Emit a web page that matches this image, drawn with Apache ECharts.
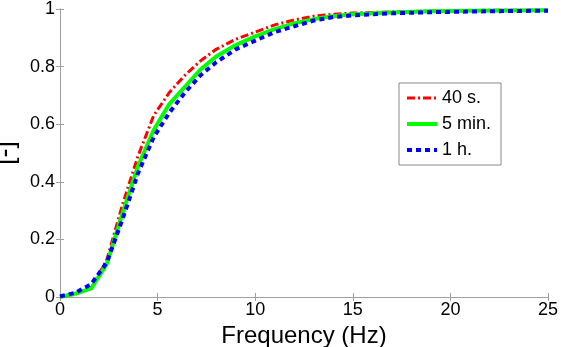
<!DOCTYPE html>
<html>
<head>
<meta charset="utf-8">
<script src="https://cdn.jsdelivr.net/npm/echarts@6/dist/echarts.min.js"></script>
<style>
  html, body { margin: 0; padding: 0; background: #fff; }
  #chart { width: 561px; height: 347px; }
</style>
</head>
<body>
<div id="chart"></div>
<script>
// frequency samples (Hz)
const freq = [0, 0.8, 1.6, 2.4, 3.2, 4.0, 4.8, 5.6, 6.4, 7.2, 8.0, 9, 10, 11, 12, 13, 14, 15, 17, 19, 21, 23, 25]
// 40 s.
const s40 = [0, 0.01, 0.03, 0.13, 0.32, 0.49, 0.63, 0.71, 0.77, 0.82, 0.86, 0.895, 0.92, 0.945, 0.962, 0.975, 0.982, 0.986, 0.99, 0.993, 0.995, 0.996, 0.996]
// 5 min.
const m5 = [0, 0.012, 0.03, 0.115, 0.29, 0.455, 0.58, 0.67, 0.73, 0.79, 0.835, 0.875, 0.905, 0.93, 0.95, 0.965, 0.975, 0.982, 0.988, 0.992, 0.994, 0.995, 0.996]
// 1 h.
const h1 = [0.002, 0.015, 0.045, 0.12, 0.27, 0.43, 0.555, 0.64, 0.71, 0.77, 0.815, 0.86, 0.89, 0.92, 0.94, 0.96, 0.972, 0.978, 0.985, 0.989, 0.991, 0.993, 0.994]
const xTicks = [0, 5, 10, 15, 20, 25]
const yTicks = [0, 0.2, 0.4, 0.6, 0.8, 1]

const pairs = ys => freq.map((x, i) => [x, ys[i]])

const font = 'Liberation Sans, Arial, sans-serif'
const axisLine = { lineStyle: { color: '#a0a0a0', width: 1 } }
const tick = { inside: true, length: 4, lineStyle: { color: '#a0a0a0' } }
const yLabel = v => {
  if (v === 0 || v === 1) return String(v)
  return v.toFixed(1)
}

const redStyle = { color: '#ff0000', width: 3, type: [8, 3, 2, 3] }
const greenStyle = { color: '#00ff00', width: 4, type: 'solid' }
const blueStyle = { color: '#0000ff', width: 4, type: [5, 4] }

const chart = echarts.init(document.getElementById('chart'))
chart.setOption({
  animation: false,
  backgroundColor: '#fff',
  grid: { left: 60, right: 13, top: 9, bottom: 50, outerBoundsMode: 'none' },
  legend: {
    orient: 'vertical',
    left: 399,
    top: 83,
    padding: [6, 10, 6, 6],
    itemGap: 8,
    itemWidth: 30,
    itemHeight: 18,
    borderColor: '#888',
    borderWidth: 1,
    backgroundColor: '#fff',
    itemStyle: { opacity: 0 },
    textStyle: { fontFamily: font, fontSize: 18, color: '#000' },
    data: [
      { name: '40 s.', lineStyle: redStyle },
      { name: '5 min.', lineStyle: greenStyle },
      { name: '1 h.', lineStyle: blueStyle }
    ]
  },
  xAxis: [
    {
      type: 'value',
      min: 0,
      max: 25,
      interval: 5,
      name: 'Frequency (Hz)',
      nameLocation: 'middle',
      nameGap: 24,
      nameTextStyle: { fontFamily: font, fontSize: 24, color: '#000' },
      axisLine: axisLine,
      axisTick: tick,
      axisLabel: { fontFamily: font, fontSize: 18, color: '#000', margin: 4 },
      splitLine: { show: false }
    },
    {
      type: 'value',
      position: 'top',
      min: 0,
      max: 25,
      interval: 5,
      axisLine: axisLine,
      axisTick: tick,
      axisLabel: { show: false },
      splitLine: { show: false }
    }
  ],
  yAxis: [
    {
      type: 'value',
      min: 0,
      max: 1,
      interval: 0.2,
      name: '[-]',
      nameLocation: 'middle',
      nameGap: 35,
      nameRotate: 90,
      nameTextStyle: { fontFamily: font, fontSize: 27, color: '#000' },
      axisLine: axisLine,
      axisTick: tick,
      axisLabel: { fontFamily: font, fontSize: 18, color: '#000', margin: 5, formatter: yLabel },
      splitLine: { show: false }
    },
    {
      type: 'value',
      position: 'right',
      min: 0,
      max: 1,
      interval: 0.2,
      axisLine: axisLine,
      axisTick: tick,
      axisLabel: { show: false },
      splitLine: { show: false }
    }
  ],
  series: [
    {
      name: '40 s.',
      type: 'line',
      symbol: 'none',
      data: pairs(s40),
      color: '#ff0000',
      lineStyle: redStyle
    },
    {
      name: '5 min.',
      type: 'line',
      symbol: 'none',
      data: pairs(m5),
      color: '#00ff00',
      lineStyle: greenStyle
    },
    {
      name: '1 h.',
      type: 'line',
      symbol: 'none',
      data: pairs(h1),
      color: '#0000ff',
      lineStyle: blueStyle
    }
  ]
})
</script>
</body>
</html>
